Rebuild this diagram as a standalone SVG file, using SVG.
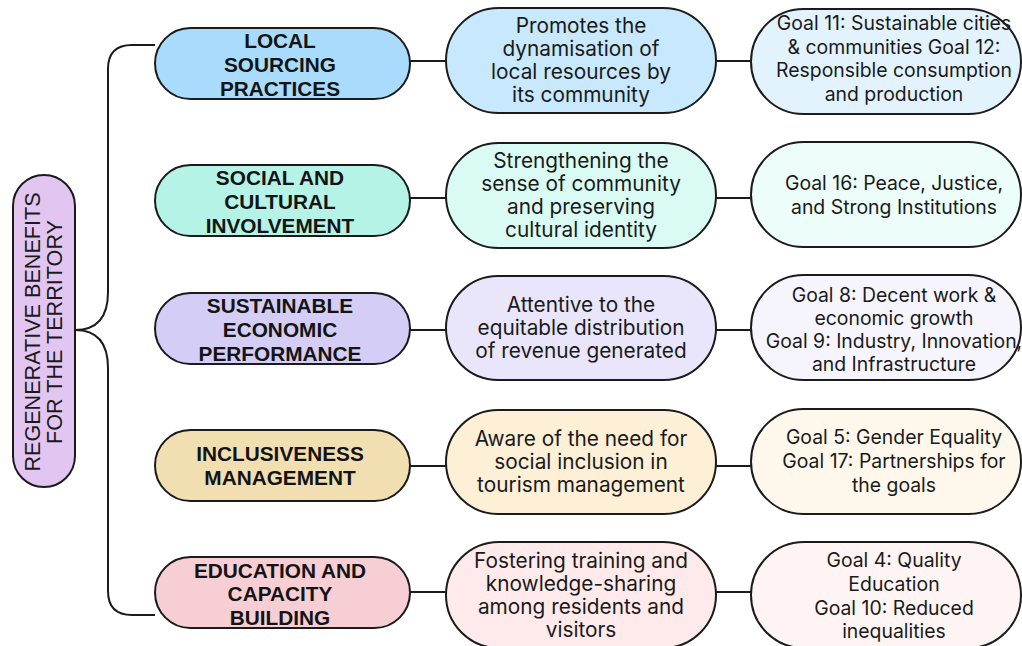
<svg xmlns="http://www.w3.org/2000/svg" width="1022" height="646" viewBox="0 0 1022 646">
  <style>
    .pill { stroke: #1b1b1b; stroke-width: 2; }
    .wire { stroke: #1b1b1b; stroke-width: 2; fill: none; }
    .head { font-family: "Liberation Sans", Arial, sans-serif; font-weight: bold; font-size: 20.8px; fill: #141414; text-anchor: middle; }
    .body { font-family: Inter, "Noto Sans", sans-serif; font-size: 20.8px; fill: #1a1a1a; text-anchor: middle; }
    .goal { font-family: Inter, "Noto Sans", sans-serif; font-size: 19.4px; fill: #1a1a1a; text-anchor: middle; }
    .root { font-family: "Liberation Sans", Arial, sans-serif; font-size: 21.6px; fill: #1a1a1a; text-anchor: middle; }
  </style>
  <rect width="1022" height="646" fill="#ffffff"/>

  <!-- connectors: brace from the root and links between columns -->
  <g id="connectors">
    <path class="wire" d="M155,45 H132 Q108,45 108,69 V292 Q108,330 75,330 Q108,330 108,368 V591 Q108,615 132,615 H155"/>
    <line class="wire" x1="410" y1="61" x2="446" y2="61"/>
    <line class="wire" x1="716" y1="61" x2="751" y2="61"/>
    <line class="wire" x1="410" y1="198" x2="446" y2="198"/>
    <line class="wire" x1="716" y1="198" x2="751" y2="198"/>
    <line class="wire" x1="410" y1="330" x2="446" y2="330"/>
    <line class="wire" x1="716" y1="330" x2="751" y2="330"/>
    <line class="wire" x1="410" y1="466" x2="446" y2="466"/>
    <line class="wire" x1="716" y1="466" x2="751" y2="466"/>
    <line class="wire" x1="410" y1="592" x2="446" y2="592"/>
    <line class="wire" x1="716" y1="592" x2="751" y2="592"/>
  </g>

  <!-- root -->
  <g id="root">
    <rect class="pill" x="13" y="175" width="62" height="312" rx="31" fill="#e3c5f1"/>
    <g transform="translate(44,332) rotate(-90)">
      <text class="root" x="0" y="-4">REGENERATIVE BENEFITS</text>
      <text class="root" x="0" y="18">FOR THE TERRITORY</text>
    </g>
  </g>

  <!-- row 1 -->
  <g id="local-sourcing">
    <rect class="pill" x="155" y="28" width="255" height="71" rx="35.5" fill="#a9dcfc"/>
    <text class="head" x="280" y="48">LOCAL</text>
    <text class="head" x="280" y="72">SOURCING</text>
    <text class="head" x="280" y="96">PRACTICES</text>
  </g>
  <g id="local-sourcing-effect">
    <rect class="pill" x="446" y="8" width="270" height="105" rx="52.5" fill="#c7e8fd"/>
    <text class="body" x="581" y="33">Promotes the</text>
    <text class="body" x="581" y="56">dynamisation of</text>
    <text class="body" x="581" y="79">local resources by</text>
    <text class="body" x="581" y="102">its community</text>
  </g>
  <g id="local-sourcing-goals">
    <rect class="pill" x="751" y="9" width="270" height="105" rx="52.5" fill="#e2f3fe"/>
    <text class="goal" x="894" y="30">Goal 11: Sustainable cities</text>
    <text class="goal" x="894" y="53.5">&amp; communities Goal 12:</text>
    <text class="goal" x="894" y="77">Responsible consumption</text>
    <text class="goal" x="894" y="100.5">and production</text>
  </g>

  <!-- row 2 -->
  <g id="social-cultural">
    <rect class="pill" x="155" y="165" width="255" height="71" rx="35.5" fill="#b4f3e5"/>
    <text class="head" x="280" y="185">SOCIAL AND</text>
    <text class="head" x="280" y="209">CULTURAL</text>
    <text class="head" x="280" y="233">INVOLVEMENT</text>
  </g>
  <g id="social-cultural-effect">
    <rect class="pill" x="446" y="143" width="270" height="105" rx="52.5" fill="#d9fbf3"/>
    <text class="body" x="581" y="168">Strengthening the</text>
    <text class="body" x="581" y="191">sense of community</text>
    <text class="body" x="581" y="214">and preserving</text>
    <text class="body" x="581" y="237">cultural identity</text>
  </g>
  <g id="social-cultural-goals">
    <rect class="pill" x="751" y="142" width="270" height="105" rx="52.5" fill="#edfdf9"/>
    <text class="goal" x="894" y="190">Goal 16: Peace, Justice,</text>
    <text class="goal" x="894" y="214">and Strong Institutions</text>
  </g>

  <!-- row 3 -->
  <g id="economic-performance">
    <rect class="pill" x="155" y="293" width="255" height="71" rx="35.5" fill="#d4cdf6"/>
    <text class="head" x="280" y="313">SUSTAINABLE</text>
    <text class="head" x="280" y="337">ECONOMIC</text>
    <text class="head" x="280" y="361">PERFORMANCE</text>
  </g>
  <g id="economic-performance-effect">
    <rect class="pill" x="446" y="276" width="270" height="104" rx="52" fill="#e9e6fc"/>
    <text class="body" x="581" y="312">Attentive to the</text>
    <text class="body" x="581" y="335">equitable distribution</text>
    <text class="body" x="581" y="358">of revenue generated</text>
  </g>
  <g id="economic-performance-goals">
    <rect class="pill" x="751" y="275" width="270" height="105" rx="52.5" fill="#f6f5fe"/>
    <text class="goal" x="894" y="302">Goal 8: Decent work &amp;</text>
    <text class="goal" x="894" y="325">economic growth</text>
    <text class="goal" x="894" y="348">Goal 9: Industry, Innovation,</text>
    <text class="goal" x="894" y="371">and Infrastructure</text>
  </g>

  <!-- row 4 -->
  <g id="inclusiveness">
    <rect class="pill" x="155" y="430" width="255" height="71" rx="35.5" fill="#f2dfb1"/>
    <text class="head" x="280" y="461">INCLUSIVENESS</text>
    <text class="head" x="280" y="485">MANAGEMENT</text>
  </g>
  <g id="inclusiveness-effect">
    <rect class="pill" x="446" y="410" width="270" height="104" rx="52" fill="#fdf0d7"/>
    <text class="body" x="581" y="446">Aware of the need for</text>
    <text class="body" x="581" y="469">social inclusion in</text>
    <text class="body" x="581" y="492">tourism management</text>
  </g>
  <g id="inclusiveness-goals">
    <rect class="pill" x="751" y="409" width="270" height="105" rx="52.5" fill="#fef7ec"/>
    <text class="goal" x="894" y="444">Goal 5: Gender Equality</text>
    <text class="goal" x="894" y="468">Goal 17: Partnerships for</text>
    <text class="goal" x="894" y="492">the goals</text>
  </g>

  <!-- row 5 -->
  <g id="education">
    <rect class="pill" x="155" y="557" width="255" height="71" rx="35.5" fill="#f7ced3"/>
    <text class="head" x="280" y="578">EDUCATION AND</text>
    <text class="head" x="280" y="601">CAPACITY</text>
    <text class="head" x="280" y="625">BUILDING</text>
  </g>
  <g id="education-effect">
    <rect class="pill" x="446" y="542" width="270" height="106" rx="53" fill="#feeaeb"/>
    <text class="body" x="581" y="568">Fostering training and</text>
    <text class="body" x="581" y="591">knowledge-sharing</text>
    <text class="body" x="581" y="614">among residents and</text>
    <text class="body" x="581" y="637">visitors</text>
  </g>
  <g id="education-goals">
    <rect class="pill" x="751" y="542" width="270" height="106" rx="53" fill="#fef4f4"/>
    <text class="goal" x="894" y="567">Goal 4: Quality</text>
    <text class="goal" x="894" y="591">Education</text>
    <text class="goal" x="894" y="615">Goal 10: Reduced</text>
    <text class="goal" x="894" y="638">inequalities</text>
  </g>
</svg>
